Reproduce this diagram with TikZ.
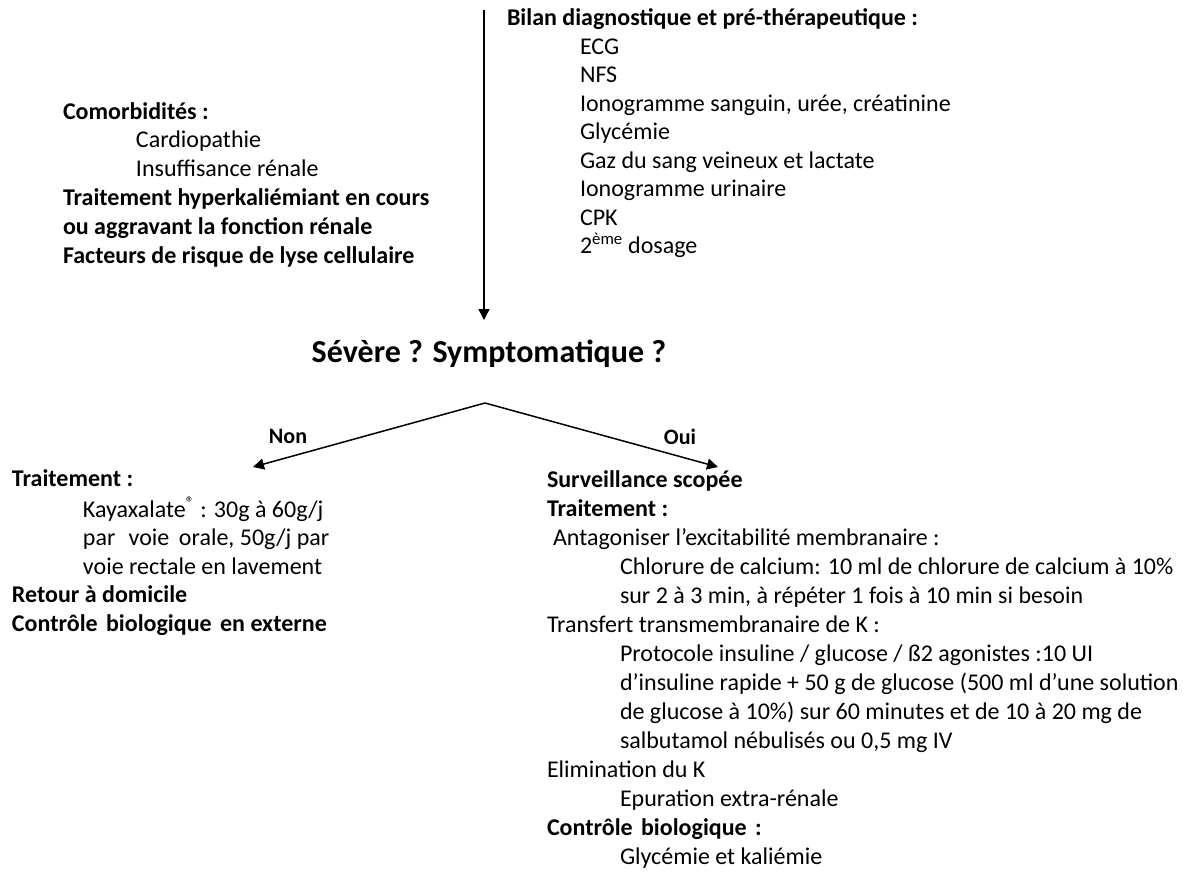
\documentclass[tikz,border=0pt]{standalone}
\usepackage{fontspec}
\setmainfont{Carlito}
\usetikzlibrary{arrows.meta}
\begin{document}
\begin{tikzpicture}[x=1pt,y=-1pt,
  blk/.style={anchor=north west, inner sep=0pt, outer sep=0pt, align=left},
  conn/.style={line width=1.5pt, -{Triangle[length=11pt,width=11pt]}},
  lbl/.style={inner sep=0pt, anchor=base, font=\fontsize{22}{26}\selectfont\bfseries}]
\useasboundingbox (0,0) rectangle (1195,871);

% top: bilan
\node[blk, font=\fontsize{24}{28.5}\selectfont] (bilan) at (507,6) {\strut\textbf{Bilan diagnostique et pré-thérapeutique :}\\
\hspace*{73pt}ECG\\
\hspace*{73pt}NFS\\
\hspace*{73pt}Ionogramme sanguin, urée, créatinine\\
\hspace*{73pt}Glycémie\\
\hspace*{73pt}Gaz du sang veineux et lactate\\
\hspace*{73pt}Ionogramme urinaire\\
\hspace*{73pt}CPK\\
\hspace*{73pt}2\textsuperscript{ème} dosage};

% top left: comorbidites
\node[blk, font=\fontsize{24}{28.8}\selectfont] (comorb) at (63,99) {\strut\textbf{Comorbidités :}\\
\hspace*{73pt}Cardiopathie\\
\hspace*{73pt}Insuffisance rénale\\
\textbf{Traitement hyperkaliémiant en cours}\\
\textbf{ou aggravant la fonction rénale}\\
\textbf{Facteurs de risque de lyse cellulaire}};

% title
\node[inner sep=0pt, anchor=base, font=\fontsize{32}{38}\selectfont\bfseries] (title) at (489,362) {Sévère ? Symptomatique ?};

% left branch: non
\node[blk, font=\fontsize{24}{28.5}\selectfont] (non) at (12,467) {\strut\textbf{Traitement :}\\
\hspace*{71pt}Kayaxalate\textsuperscript{®} : 30g à 60g/j\\
\hspace*{71pt}par\hspace{0.55em}voie\hspace{0.4em}orale, 50g/j par\\
\hspace*{71pt}voie rectale en lavement\\
\textbf{Retour à domicile}\\
\textbf{Contrôle\hspace{0.35em}biologique\hspace{0.35em}en externe}};

% right branch: oui
\node[blk, font=\fontsize{24}{29}\selectfont] (oui) at (547,467) {\strut\textbf{Surveillance scopée}\\
\textbf{Traitement :}\\
\hspace*{6pt}Antagoniser l’excitabilité membranaire :\\
\hspace*{73pt}Chlorure de calcium: 10 ml de chlorure de calcium à 10\%\\
\hspace*{73pt}sur 2 à 3 min, à répéter 1 fois à 10 min si besoin\\
Transfert transmembranaire de K :\\
\hspace*{73pt}Protocole insuline / glucose / ß2 agonistes :10 UI\\
\hspace*{73pt}d’insuline rapide + 50 g de glucose (500 ml d’une solution\\
\hspace*{73pt}de glucose à 10\%) sur 60 minutes et de 10 à 20 mg de\\
\hspace*{73pt}salbutamol nébulisés ou 0,5 mg IV\\
Elimination du K\\
\hspace*{73pt}Epuration extra-rénale\\
\textbf{Contrôle\hspace{0.35em}biologique\hspace{0.35em}:}\\
\hspace*{73pt}Glycémie et kaliémie};

% labels
\node[lbl] (nonlbl) at (288,443) {Non};
\node[lbl] (ouilbl) at (680,444) {Oui};

% connectors
\coordinate (vtop) at (484,10);
\coordinate (vend) at (484,320);
\coordinate (apex) at (485,403);
\coordinate (nonend) at (253,467);
\coordinate (ouiend) at (718,467);
\draw[conn] (vtop) -- (vend);
\draw[conn] (apex) -- (nonend);
\draw[conn] (apex) -- (ouiend);
\end{tikzpicture}
\end{document}
